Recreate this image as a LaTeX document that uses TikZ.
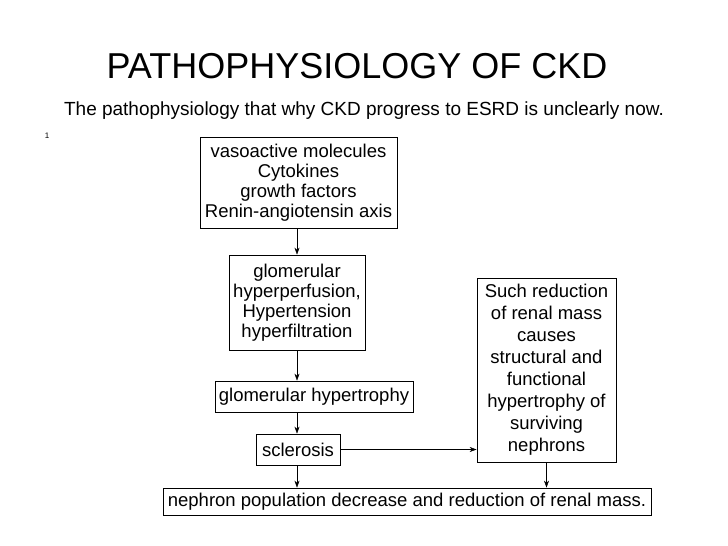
\documentclass[tikz,border=0pt]{standalone}
\usepackage{fontspec}
\setmainfont{Liberation Sans}
\usetikzlibrary{arrows.meta}
\begin{document}
\begin{tikzpicture}[x=1pt,y=-1pt,
  bx/.style={draw,line width=0.8pt,align=center,inner sep=0pt,font=\fontsize{18.5}{20}\selectfont},
  ar/.style={-{Stealth[length=7pt,width=5pt]}}]
\useasboundingbox (0,0) rectangle (728,546);
\node (title) at (357,66) {\fontsize{36}{40}\selectfont PATHOPHYSIOLOGY OF CKD};
\node (sub) at (364,111) {\fontsize{19}{22}\selectfont The pathophysiology that why CKD progress to ESRD is unclearly now.};
\node (one) at (47,136) {\fontsize{8}{9}\selectfont 1};
\node[bx,minimum width=197pt,minimum height=91pt] (b1) at (298.5,182.5) {vasoactive molecules\\Cytokines\\growth factors\\Renin-angiotensin axis};
\node[bx,minimum width=136pt,minimum height=95pt] (b2) at (297,302.5) {glomerular\\hyperperfusion,\\Hypertension\\hyperfiltration};
\node[bx,minimum width=198pt,minimum height=31pt] (b3) at (314,396.5) {glomerular hypertrophy};
\node[bx,minimum width=84pt,minimum height=31pt] (b4) at (298,449.5) {sclerosis};
\node[bx,minimum width=488pt,minimum height=27pt] (b5) at (407,501.5) {nephron population decrease and reduction of renal mass.};
\node[bx,minimum width=139pt,minimum height=184pt,font=\fontsize{18.5}{22}\selectfont] (b6) at (546.5,370) {Such reduction\\of renal mass\\causes\\structural and\\functional\\hypertrophy of\\surviving\\nephrons};
\draw[ar] (b1.south -| 297,0) -- (b2.north -| 297,0);
\draw[ar] (b2.south -| 297,0) -- (b3.north -| 297,0);
\draw[ar] (b3.south -| 297,0) -- (b4.north -| 297,0);
\draw[ar] (b4.south -| 297,0) -- (b5.north -| 297,0);
\draw[ar] (b4.east) -- (b4.east -| b6.west);
\draw[ar] (b6.south) -- (b6.south |- b5.north);
\end{tikzpicture}
\end{document}
